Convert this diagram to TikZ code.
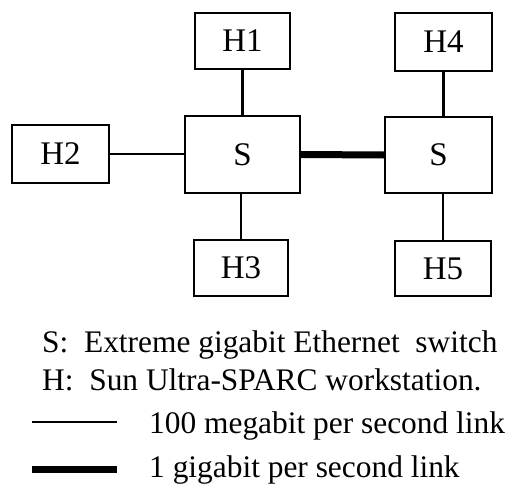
\documentclass[tikz,border=0pt]{standalone}
\usepackage{fontspec}
\setmainfont{Liberation Serif}
\begin{document}
\begin{tikzpicture}[x=1pt,y=-1pt,
  box/.style={draw,line width=2pt,inner sep=0pt,font=\fontsize{33}{33}\selectfont},
  fast/.style={line width=2.8pt},
  giga/.style={line width=7pt},
  legend/.style={anchor=base west,inner sep=0pt,font=\fontsize{31.4}{31.4}\selectfont}]
\useasboundingbox (0,0) rectangle (510,487);
% switches
\node[box,minimum width=115pt,minimum height=77pt] (s1) at (242.5,154.5) {S};
\node[box,minimum width=107pt,minimum height=76pt] (s2) at (438.5,155) {S};
% hosts
\node[box,minimum width=95pt,minimum height=56pt] (h1) at (242.5,41) {H1};
\node[box,minimum width=97pt,minimum height=58pt] (h2) at (60.5,154) {H2};
\node[box,minimum width=94pt,minimum height=56pt] (h3) at (241,268) {H3};
\node[box,minimum width=97pt,minimum height=58pt] (h4) at (443.5,42) {H4};
\node[box,minimum width=96pt,minimum height=55pt] (h5) at (443,268.5) {H5};
% links
\draw[fast] (h1.south) -- (h1.south |- s1.north);
\draw[fast] (h2.east) -- (h2.east -| s1.west);
\draw[fast] (h3.north) -- (h3.north |- s1.south);
\draw[fast] (h4.south) -- (h4.south |- s2.north);
\draw[fast] (h5.north) -- (h5.north |- s2.south);
\draw[giga] (s1.east) -- (s2.west);
% legend
\node[legend] (ls) at (42,352) {S:\ \ Extreme gigabit Ethernet\ \ switch};
\node[legend] (lh) at (42,390) {H:\ \ Sun Ultra-SPARC workstation.};
\node[legend] (lf) at (149,433) {100 megabit per second link};
\node[legend] (lg) at (149,477) {1 gigabit per second link};
\coordinate (fa) at (32,422); \coordinate (fb) at (117,422);
\coordinate (ga) at (32,469); \coordinate (gb) at (117,469);
\draw[fast] (fa) -- (fb);
\draw[giga] (ga) -- (gb);
\end{tikzpicture}
\end{document}
